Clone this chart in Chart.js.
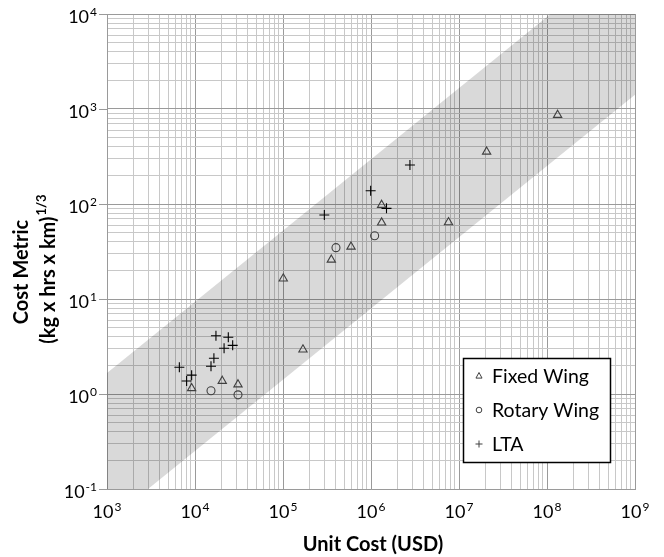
<!DOCTYPE html>
<html>
<head>
<meta charset="utf-8">
<script src="https://cdn.jsdelivr.net/npm/chart.js@4"></script>
<style>
  html, body { margin: 0; padding: 0; background: #fff; }
  #wrap { width: 664px; height: 557px; }
</style>
</head>
<body>
<div id="wrap"><canvas id="myChart"></canvas></div>
<script>
// unit cost (USD) vs cost metric, one pair of arrays per airframe type
var fixedWingCost = [9160, 20400, 30800, 100700, 168600, 354000, 593000, 1320000, 1320000, 7600000, 20600000, 132000000];
var fixedWingMetric = [1.15, 1.37, 1.26, 16.4, 2.93, 25.9, 35.5, 97.6, 63.6, 64.2, 355, 865];

var rotaryWingCost = [15200, 30800, 400000, 1100000];
var rotaryWingMetric = [1.08, 0.98, 34.7, 46.4];

var ltaCost = [6640, 8030, 9160, 15200, 16400, 17300, 21400, 23900, 26800, 295000, 991000, 1500000, 2770000];
var ltaMetric = [1.91, 1.37, 1.58, 1.96, 2.38, 4.11, 3.03, 3.95, 3.25, 76.6, 138, 90, 257];

// shaded trend band, edges given at both ends of the cost range
var bandCost = [1e3, 1e9];
var bandUpper = [1.66, 52500];
var bandLower = [0.0447, 1413];

// decade exponents for the tick labels
var xTickExponents = [3, 4, 5, 6, 7, 8, 9];
var yTickExponents = [-1, 0, 1, 2, 3, 4];

var FONT = 'Lato, "Open Sans", sans-serif';
var MAJOR_GRID = '#9a9a9a';
var MINOR_GRID = '#c8c8c8';

function pairs(xs, ys) {
  return xs.map(function(x, i) { return { x: x, y: ys[i] }; });
}

// gridlines at 1..9 x 10^n for every decade
function decadeTicks(exps) {
  var ticks = [];
  for (var i = 0; i < exps.length; i++) {
    var p = Math.pow(10, exps[i]);
    var last = i === exps.length - 1 ? 1 : 9;
    for (var m = 1; m <= last; m++) {
      ticks.push({ value: m * p, major: m === 1 });
    }
  }
  return ticks;
}

function gridColor(c) {
  return c.tick && c.tick.major ? MAJOR_GRID : MINOR_GRID;
}

// "10" with a raised exponent
function powerLabel(ctx, exp, x, y, align) {
  ctx.font = '18px ' + FONT;
  var wb = ctx.measureText('10').width;
  ctx.font = '12px ' + FONT;
  var we = ctx.measureText(exp).width;
  var total = wb + 1 + we;
  var left = align === 'center' ? x - total / 2 : x - total;
  ctx.textAlign = 'left';
  ctx.textBaseline = 'alphabetic';
  ctx.font = '18px ' + FONT;
  ctx.fillText('10', left, y);
  ctx.font = '12px ' + FONT;
  ctx.fillText(exp, left + wb + 1, y - 7);
}

function drawSymbol(ctx, style, x, y, r) {
  ctx.beginPath();
  if (style === 'triangle') {
    ctx.moveTo(x, y - r);
    ctx.lineTo(x + r * 0.87, y + r * 0.6);
    ctx.lineTo(x - r * 0.87, y + r * 0.6);
    ctx.closePath();
  } else if (style === 'circle') {
    ctx.arc(x, y, r, 0, Math.PI * 2);
  } else {
    ctx.moveTo(x - r, y); ctx.lineTo(x + r, y);
    ctx.moveTo(x, y - r); ctx.lineTo(x, y + r);
  }
  ctx.stroke();
}

var axisText = {
  id: 'axisText',
  afterDraw: function(chart) {
    var ctx = chart.ctx;
    var xs = chart.scales.x, ys = chart.scales.y;
    ctx.save();

    // outward tick marks on the y axis
    ctx.strokeStyle = MAJOR_GRID;
    ctx.lineWidth = 1;
    ctx.beginPath();
    yTickExponents.forEach(function(e) {
      var py = Math.round(ys.getPixelForValue(Math.pow(10, e))) + 0.5;
      ctx.moveTo(xs.left - 8, py);
      ctx.lineTo(xs.left, py);
    });
    ctx.stroke();

    ctx.fillStyle = '#000';
    xTickExponents.forEach(function(e) {
      powerLabel(ctx, String(e), xs.getPixelForValue(Math.pow(10, e)), 518, 'center');
    });
    yTickExponents.forEach(function(e) {
      powerLabel(ctx, String(e), 97, ys.getPixelForValue(Math.pow(10, e)) + 9, 'right');
    });

    // x title
    ctx.font = 'bold 20px ' + FONT;
    ctx.textAlign = 'center';
    ctx.fillText('Unit Cost (USD)', 373, 551);

    // y title, two rotated lines
    ctx.save();
    ctx.translate(28, 272);
    ctx.rotate(-Math.PI / 2);
    ctx.fillText('Cost Metric', 0, 0);
    ctx.restore();

    ctx.save();
    ctx.translate(55, 269);
    ctx.rotate(-Math.PI / 2);
    ctx.font = 'bold 20px ' + FONT;
    var main = '(kg x hrs x km)';
    var wm = ctx.measureText(main).width;
    ctx.font = 'bold 13px ' + FONT;
    var ws = ctx.measureText('1/3').width;
    var start = -(wm + 1 + ws) / 2;
    ctx.textAlign = 'left';
    ctx.font = 'bold 20px ' + FONT;
    ctx.fillText(main, start, 0);
    ctx.font = 'bold 13px ' + FONT;
    ctx.fillText('1/3', start + wm + 1, -9);
    ctx.restore();

    // legend box
    ctx.fillStyle = '#fff';
    ctx.fillRect(463.5, 358.5, 147, 104);
    ctx.strokeStyle = '#000';
    ctx.lineWidth = 1.5;
    ctx.strokeRect(463.5, 358.5, 147, 104);

    var rows = [
      { style: 'triangle', text: 'Fixed Wing', y: 376, r: 3.5 },
      { style: 'circle', text: 'Rotary Wing', y: 410, r: 2.8 },
      { style: 'cross', text: 'LTA', y: 444, r: 3.5 }
    ];
    ctx.lineWidth = 1;
    ctx.strokeStyle = '#404040';
    rows.forEach(function(row) {
      drawSymbol(ctx, row.style, 479, row.y, row.r);
    });
    ctx.fillStyle = '#000';
    ctx.font = '19.5px ' + FONT;
    ctx.textAlign = 'left';
    rows.forEach(function(row) {
      ctx.fillText(row.text, 492, row.y + 7);
    });

    ctx.restore();
  }
};

var ctx = document.getElementById('myChart').getContext('2d');
var chart = new Chart(ctx, {
  type: 'scatter',
  data: {
    datasets: [
      {
        label: 'Fixed Wing',
        data: pairs(fixedWingCost, fixedWingMetric),
        pointStyle: 'triangle',
        pointRadius: 4.8,
        borderColor: '#404040',
        backgroundColor: 'rgba(0,0,0,0)',
        borderWidth: 1.1
      },
      {
        label: 'Rotary Wing',
        data: pairs(rotaryWingCost, rotaryWingMetric),
        pointStyle: 'circle',
        pointRadius: 4,
        borderColor: '#404040',
        backgroundColor: 'rgba(0,0,0,0)',
        borderWidth: 1.1
      },
      {
        label: 'LTA',
        data: pairs(ltaCost, ltaMetric),
        pointStyle: 'cross',
        pointRadius: 5,
        borderColor: '#000',
        borderWidth: 1.1
      },
      {
        label: 'band upper',
        data: pairs(bandCost, bandUpper),
        showLine: true,
        pointRadius: 0,
        borderWidth: 0,
        borderColor: 'rgba(0,0,0,0)',
        backgroundColor: 'rgba(0,0,0,0.15)',
        fill: '+1'
      },
      {
        label: 'band lower',
        data: pairs(bandCost, bandLower),
        showLine: true,
        pointRadius: 0,
        borderWidth: 0,
        borderColor: 'rgba(0,0,0,0)',
        fill: false
      }
    ]
  },
  options: {
    responsive: true,
    maintainAspectRatio: false,
    animation: false,
    events: [],
    layout: { padding: { left: 107, right: 29, top: 14, bottom: 68 } },
    plugins: {
      legend: { display: false },
      tooltip: { enabled: false }
    },
    scales: {
      x: {
        type: 'logarithmic',
        min: 1e3,
        max: 1e9,
        afterBuildTicks: function(scale) { scale.ticks = decadeTicks(xTickExponents); },
        ticks: { display: false, autoSkip: false },
        grid: { color: gridColor, drawTicks: false },
        border: { color: MAJOR_GRID }
      },
      y: {
        type: 'logarithmic',
        min: 0.1,
        max: 1e4,
        afterBuildTicks: function(scale) { scale.ticks = decadeTicks(yTickExponents); },
        ticks: { display: false, autoSkip: false },
        grid: { color: gridColor, drawTicks: false },
        border: { color: MAJOR_GRID }
      }
    }
  },
  plugins: [axisText]
});
</script>
</body>
</html>
